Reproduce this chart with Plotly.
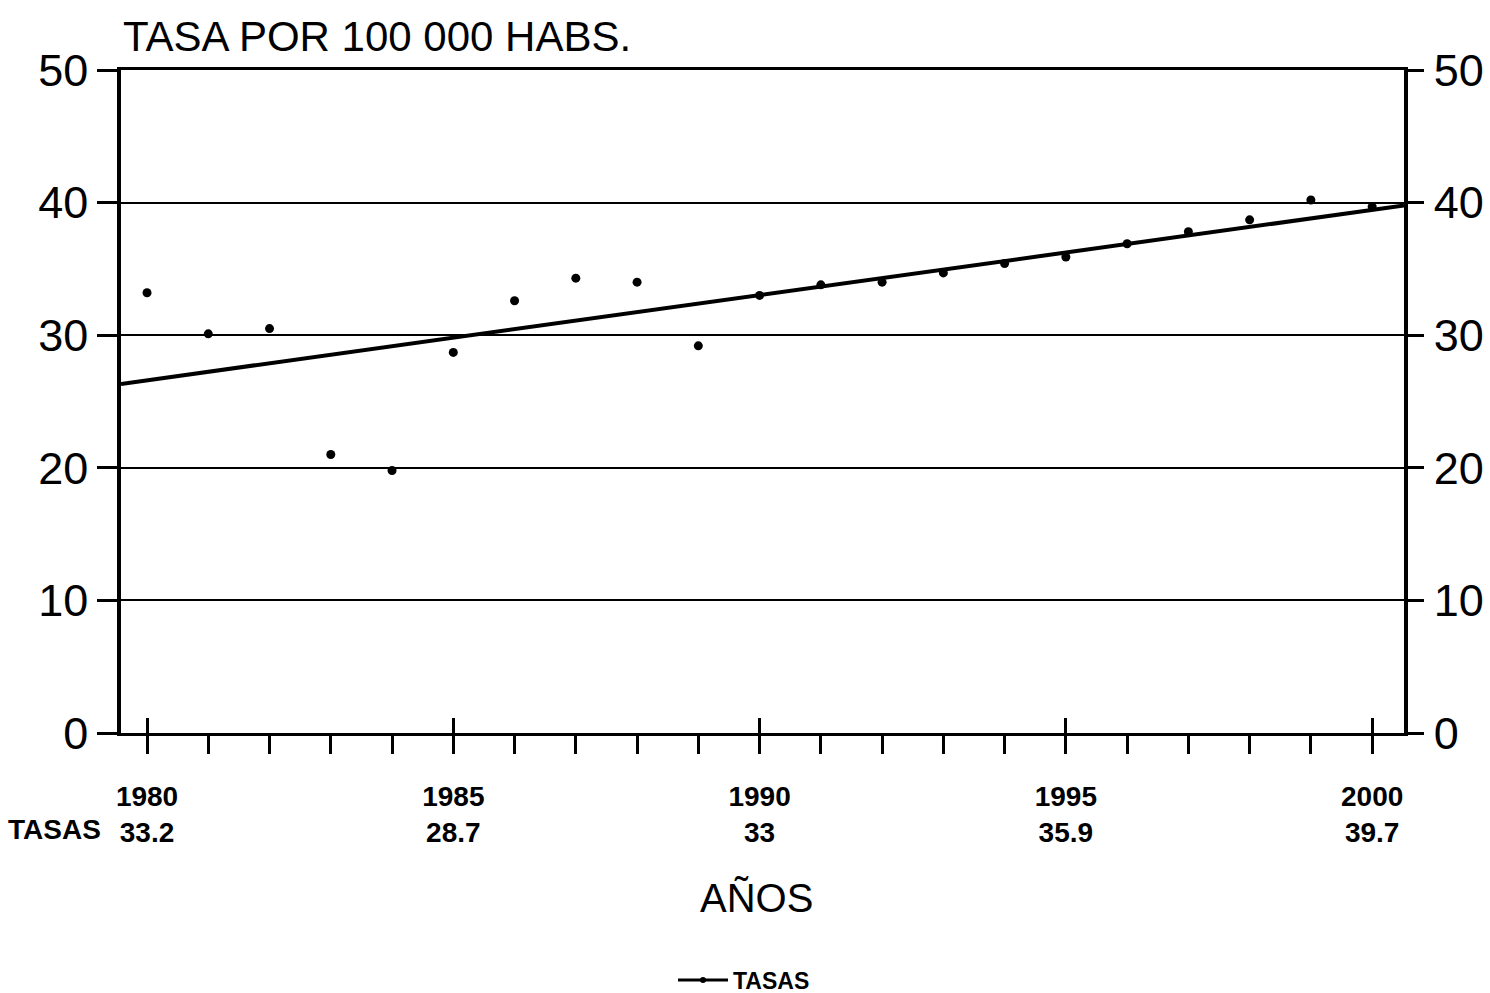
import numpy as np
import plotly.graph_objects as go

# Annual rate per 100 000 inhabitants
years = [1980, 1981, 1982, 1983, 1984, 1985, 1986, 1987, 1988, 1989, 1990,
         1991, 1992, 1993, 1994, 1995, 1996, 1997, 1998, 1999, 2000]
rates = [33.2, 30.1, 30.5, 21.0, 19.8, 28.7, 32.6, 34.3, 34.0, 29.2, 33.0,
         33.8, 34.0, 34.7, 35.4, 35.9, 36.9, 37.8, 38.7, 40.2, 39.7]

labelled_years = [1980, 1985, 1990, 1995, 2000]
y_ticks = [0, 10, 20, 30, 40, 50]

FONT = "Liberation Sans, Arial, sans-serif"
X_RANGE = [1979.575, 2000.52]

# Least-squares trend line over the series
slope, intercept = np.polyfit(years, rates, 1)
trend_x = np.array(X_RANGE)
trend_y = slope * trend_x + intercept

rate_by_year = dict(zip(years, rates))
tick_text = [
    f"{y}<br>{rate_by_year[y]:g}" if y in labelled_years else ""
    for y in years
]

fig = go.Figure()

fig.add_trace(go.Scatter(
    x=years, y=rates, mode="markers",
    marker=dict(color="black", size=9),
    showlegend=False, cliponaxis=False,
))
# Trend line sits on the overlay axes (same ranges) so the right-hand
# axis and the inside major ticks get drawn
fig.add_trace(go.Scatter(
    x=trend_x, y=trend_y, mode="lines", xaxis="x2", yaxis="y2",
    line=dict(color="black", width=4),
    showlegend=False,
))
# Legend entry
fig.add_trace(go.Scatter(
    x=[None], y=[None], mode="lines+markers", name="TASAS",
    line=dict(color="black", width=3),
    marker=dict(color="black", size=6),
))

fig.update_layout(
    width=1490, height=993,
    margin=dict(l=121, r=86, t=70, b=260, autoexpand=False),
    paper_bgcolor="white", plot_bgcolor="white",
    font=dict(family=FONT, color="black"),
    xaxis=dict(
        range=X_RANGE, tickmode="array", tickvals=years, ticktext=tick_text,
        ticks="outside", ticklen=18, tickwidth=3, tickcolor="black",
        tickfont=dict(size=28, weight="bold"), ticklabelstandoff=18,
        showline=True, linewidth=3, linecolor="black", mirror=True,
        showgrid=False, zeroline=False, automargin=False,
    ),
    xaxis2=dict(
        range=X_RANGE, overlaying="x", side="bottom", anchor="y2",
        tickmode="array", tickvals=labelled_years,
        ticks="inside", ticklen=15, tickwidth=3, tickcolor="black",
        showticklabels=False, showline=False, showgrid=False, zeroline=False,
        automargin=False,
    ),
    yaxis=dict(
        range=[0, 50], tickmode="array", tickvals=y_ticks,
        ticks="outside", ticklen=20, tickwidth=3, tickcolor="black",
        tickfont=dict(size=45), ticklabelstandoff=0,
        showline=True, linewidth=3.5, linecolor="black",
        showgrid=True, gridcolor="black", gridwidth=2, zeroline=False,
        automargin=False,
    ),
    yaxis2=dict(
        range=[0, 50], overlaying="y", side="right", anchor="x2",
        tickmode="array", tickvals=y_ticks,
        ticks="outside", ticklen=16, tickwidth=3, tickcolor="black",
        tickfont=dict(size=45), ticklabelstandoff=1,
        showline=True, linewidth=3.5, linecolor="black",
        showgrid=False, zeroline=False, automargin=False,
    ),
    legend=dict(
        orientation="h", x=0.4856, xanchor="center",
        yref="container", y=0.0131, yanchor="middle",
        font=dict(size=23, weight="bold"), bgcolor="rgba(0,0,0,0)",
        itemwidth=50,
    ),
    annotations=[
        dict(text="TASA POR 100 000 HABS.", xref="paper", yref="paper",
             x=0, y=1.0498, xanchor="left", yanchor="middle", showarrow=False,
             font=dict(size=42)),
        dict(text="AÑOS", xref="paper", yref="paper",
             x=0.4957, y=-0.249, xanchor="center", yanchor="middle",
             showarrow=False, font=dict(size=40)),
        dict(text="TASAS", xref="paper", yref="paper",
             x=-0.014, y=-0.1463, xanchor="right", yanchor="middle",
             showarrow=False, font=dict(size=28, weight="bold")),
    ],
)

fig.write_html("out.html")
